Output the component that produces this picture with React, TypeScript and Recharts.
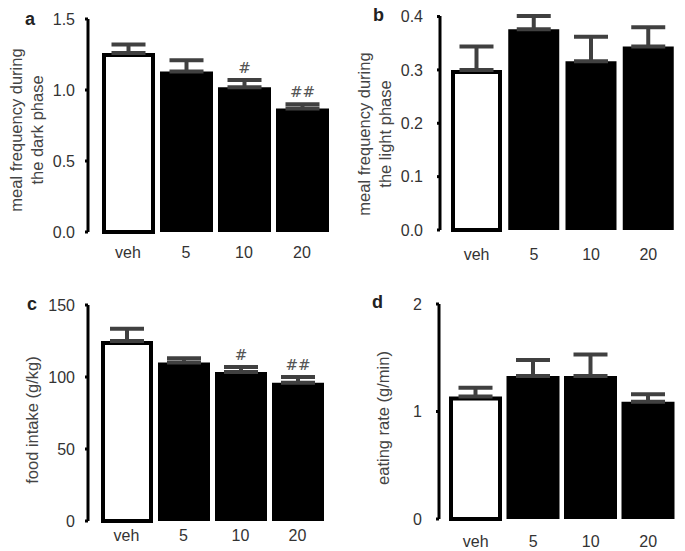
import React from 'react';
import { BarChart, Bar, XAxis, YAxis, ErrorBar, Cell, LabelList, Rectangle } from 'recharts';

const doses = ['veh', '5', '10', '20'];

// a: meal frequency, dark phase
const darkMeals = [1.26, 1.13, 1.02, 0.87];
const darkMealsErr = [0.06, 0.08, 0.05, 0.03];
const darkMealsSig = ['', '', '#', '##'];
const darkTicks = [0, 0.5, 1, 1.5];

// b: meal frequency, light phase
const lightMeals = [0.3, 0.376, 0.316, 0.344];
const lightMealsErr = [0.044, 0.025, 0.046, 0.036];
const lightTicks = [0, 0.1, 0.2, 0.3, 0.4];

// c: food intake
const foodIntake = [125, 110, 103.5, 96];
const foodIntakeErr = [8.5, 3, 3.5, 4];
const foodIntakeSig = ['', '', '#', '##'];
const foodTicks = [0, 50, 100, 150];

// d: eating rate
const eatingRate = [1.14, 1.33, 1.33, 1.09];
const eatingRateErr = [0.08, 0.15, 0.2, 0.07];
const rateTicks = [0, 1, 2];

const FONT = '"Liberation Sans", Arial, Helvetica, sans-serif';
const INK = '#333';
const ERR = '#404040';

interface PanelProps {
  letter: string;
  letterPos: [number, number];
  values: number[];
  errs: number[];
  sig?: string[];
  ticks: number[];
  fmt: (v: number) => string;
  title: string[];
  titleX: number[];
  titleY: number;
  left: number;
  top: number;
  width: number;
  height: number;
  margin: { top: number; right: number; bottom: number; left: number };
  yWidth: number;
  yTickMargin: number;
  padLeft: number;
  barSize: number;
  xTickMargin: number;
}

// veh bar is drawn as an outline, pulled in so the stroke stays inside the bar
const OutlineShape = (props: any) => {
  if (props.payload && props.payload.name === 'veh') {
    return (
      <Rectangle
        x={props.x + 2}
        y={props.y + 2}
        width={props.width - 4}
        height={props.height - 2}
        fill="#fff"
        stroke="#000"
        strokeWidth={4}
      />
    );
  }
  return <Rectangle x={props.x} y={props.y} width={props.width} height={props.height} fill="#000" />;
};

const Panel: React.FC<PanelProps> = (p) => {
  const data = doses.map((name, i) => ({
    name,
    value: p.values[i],
    err: [0, p.errs[i]],
    sig: p.sig ? p.sig[i] : '',
  }));

  const renderSig = (props: any) => {
    const { x, y, width, height, index, value } = props;
    if (!value) return null;
    const pxPerUnit = Number(height) / p.values[index];
    const errTop = Number(y) - p.errs[index] * pxPerUnit;
    return (
      <text
        x={Number(x) + Number(width) / 2}
        y={errTop - 7}
        textAnchor="middle"
        fontSize={15}
        fontFamily='"DejaVu Serif", serif'
        fill="#555"
      >
        {value}
      </text>
    );
  };

  const renderTitle = () => (
    <g>
      {p.title.map((line, i) => (
        <text
          key={i}
          x={p.titleX[i]}
          y={p.titleY}
          transform={`rotate(-90, ${p.titleX[i]}, ${p.titleY})`}
          textAnchor="middle"
          dominantBaseline="central"
          fontSize={16.5}
          fontFamily={FONT}
          fill="#444"
        >
          {line}
        </text>
      ))}
    </g>
  );

  return (
    <div style={{ position: 'absolute', left: p.left, top: p.top, width: p.width, height: p.height }}>
      <div
        style={{
          position: 'absolute',
          left: p.letterPos[0],
          top: p.letterPos[1] - 15.5,
          fontFamily: FONT,
          fontWeight: 'bold',
          fontSize: 18,
          lineHeight: 1,
          color: '#222',
        }}
      >
        {p.letter}
      </div>
      <BarChart width={p.width} height={p.height} data={data} margin={p.margin}>
        <XAxis
          dataKey="name"
          axisLine={false}
          tickLine={false}
          tickSize={0}
          tickMargin={p.xTickMargin}
          padding={{ left: p.padLeft, right: 0 }}
          height={30}
          interval={0}
          tick={{ fontSize: 16, fontFamily: FONT, fill: INK }}
        />
        <YAxis
          width={p.yWidth}
          domain={[p.ticks[0], p.ticks[p.ticks.length - 1]]}
          ticks={p.ticks}
          interval={0}
          tickFormatter={p.fmt}
          axisLine={{ stroke: '#000', strokeWidth: 3 }}
          tickLine={{ stroke: '#000', strokeWidth: 3 }}
          tickSize={3}
          tickMargin={p.yTickMargin}
          tick={{ fontSize: 16, fontFamily: FONT, fill: INK }}
          label={{ content: renderTitle }}
        />
        <Bar dataKey="value" barSize={p.barSize} isAnimationActive={false} shape={OutlineShape}>
          {data.map((d) => (
            <Cell key={d.name} fill={d.name === 'veh' ? '#fff' : '#000'} />
          ))}
          <ErrorBar dataKey="err" direction="y" width={17} stroke={ERR} strokeWidth={4} isAnimationActive={false} />
          {p.sig && <LabelList dataKey="sig" content={renderSig} />}
        </Bar>
      </BarChart>
    </div>
  );
};

const App: React.FC = () => (
  <div style={{ position: 'absolute', left: 0, top: 0, width: 685, height: 551, background: '#fff' }}>
    <Panel
      letter="a"
      letterPos={[25, 25]}
      values={darkMeals}
      errs={darkMealsErr}
      sig={darkMealsSig}
      ticks={darkTicks}
      fmt={(v) => v.toFixed(1)}
      title={['meal frequency during', 'the dark phase']}
      titleX={[16, 37]}
      titleY={130}
      left={0}
      top={0}
      width={340}
      height={275}
      margin={{ top: 19, right: 9, bottom: 13, left: 0 }}
      yWidth={88}
      yTickMargin={10}
      padLeft={11}
      barSize={53}
      xTickMargin={15}
    />
    <Panel
      letter="b"
      letterPos={[33, 21]}
      values={lightMeals}
      errs={lightMealsErr}
      ticks={lightTicks}
      fmt={(v) => v.toFixed(1)}
      title={['meal frequency during', 'the light phase']}
      titleX={[24, 45]}
      titleY={134}
      left={340}
      top={0}
      width={345}
      height={275}
      margin={{ top: 16, right: 8, bottom: 15, left: 0 }}
      yWidth={100}
      yTickMargin={14}
      padLeft={8}
      barSize={51}
      xTickMargin={19}
    />
    <Panel
      letter="c"
      letterPos={[27, 30]}
      values={foodIntake}
      errs={foodIntakeErr}
      sig={foodIntakeSig}
      ticks={foodTicks}
      fmt={(v) => String(v)}
      title={['food intake (g/kg)']}
      titleX={[32]}
      titleY={140}
      left={0}
      top={280}
      width={340}
      height={271}
      margin={{ top: 25, right: 14, bottom: 0, left: 0 }}
      yWidth={88}
      yTickMargin={10}
      padLeft={10}
      barSize={52}
      xTickMargin={9}
    />
    <Panel
      letter="d"
      letterPos={[32, 28]}
      values={eatingRate}
      errs={eatingRateErr}
      ticks={rateTicks}
      fmt={(v) => String(v)}
      title={['eating rate (g/min)']}
      titleX={[43]}
      titleY={138}
      left={340}
      top={280}
      width={345}
      height={271}
      margin={{ top: 24, right: 8, bottom: 2, left: 0 }}
      yWidth={99}
      yTickMargin={14}
      padLeft={8}
      barSize={53}
      xTickMargin={17}
    />
  </div>
);

export default App;
